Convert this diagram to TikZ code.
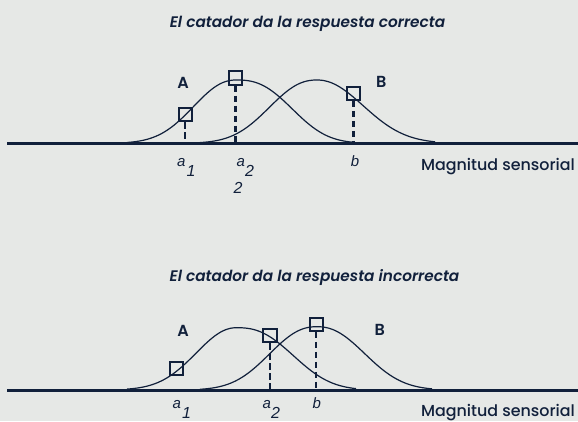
\documentclass[tikz,border=0pt]{standalone}
\usepackage{fontspec}
\setmainfont{Poppins}
\newfontfamily\semititle{Poppins SemiBold Italic}
\newfontfamily\semifont{Poppins SemiBold}
\newfontfamily\medfont{Poppins Medium}
\newfontfamily\labfont{Liberation Sans}
\definecolor{bg}{HTML}{E6E8E6}
\definecolor{ink}{HTML}{11203B}
\newcommand\dig[1]{\raisebox{-10pt}{\fontsize{16}{18}\selectfont #1}}
\tikzset{
  bellcurve/.style={draw=ink, line width=1.2pt},
  axisline/.style={draw=ink, line width=3pt},
  marker/.style={draw=ink, line width=1.9pt, minimum size=13.2pt, inner sep=0pt},
  guide/.style={draw=ink, line width=2.3pt, dash pattern=on 6.5pt off 3.5pt},
  titletext/.style={text=ink, font=\semititle\fontsize{15.3}{18}\selectfont, anchor=base, inner sep=0pt},
  groupname/.style={text=ink, font=\semifont\fontsize{16}{18}\selectfont, anchor=base, inner sep=0pt},
  varlabel/.style={text=ink, font=\labfont\itshape\fontsize{15}{17}\selectfont, anchor=base west, inner sep=0pt},
  axislabel/.style={text=ink, font=\medfont\fontsize{15.9}{18}\selectfont, anchor=base east, inner sep=0pt},
}
\begin{document}
\begin{tikzpicture}[x=1pt,y=-1pt]
\fill[bg] (0,0) rectangle (578,421);
\useasboundingbox (0,0) rectangle (578,421);
% ---------- top panel ----------
\node[titletext] (t1) at (307.5,27.3) {El catador da la respuesta correcta};
\coordinate (axTl) at (7,143.3);
\coordinate (axTr) at (578,143.3);
\draw[bellcurve] plot[domain=127:235.9, samples=50, smooth] (\x,{143.3-63.3*exp(-((236-\x)/56)^2.2)})
  -- plot[domain=236.1:353, samples=50, smooth] (\x,{143.3-63.3*exp(-((\x-236)/68)^2.6)});
\draw[bellcurve] plot[domain=192:316.9, samples=50, smooth] (\x,{143.3-63.3*exp(-((317-\x)/61)^2.3)})
  -- plot[domain=317.1:435, samples=50, smooth] (\x,{143.3-63.3*exp(-((\x-317)/63)^2.1)});
\draw[axisline] (axTl) -- (axTr);
\node[marker] (sTa1) at (185.3,114.5) {};
\node[marker] (sTa2) at (235.5,78) {};
\node[marker] (sTb) at (353.5,93.3) {};
\draw[guide] (sTa1.south) -- (sTa1.south |- axTl);
\draw[guide] (sTa2.south) -- (sTa2.south |- axTl);
\draw[guide] (sTb.south) -- (sTb.south |- axTl);
\node[groupname] (gTA) at (183,88) {A};
\node[groupname] (gTB) at (381.3,87.7) {B};
\node[varlabel] (lTa1) at (177,166.7) {a\kern1pt\dig{1}};
\node[varlabel] (lTa2) at (236.5,166.7) {a\kern0pt\dig{2}};
\node[varlabel, font=\labfont\itshape\fontsize{16}{18}\selectfont] (lTx) at (233.3,193.3) {2};
\node[varlabel, anchor=base] (lTb) at (355,166.7) {b};
\node[axislabel] (mT) at (575,170) {Magnitud sensorial};
% ---------- bottom panel ----------
\node[titletext] (t2) at (314.5,281) {El catador da la respuesta incorrecta};
\coordinate (axBl) at (7,390);
\coordinate (axBr) at (578,390);
\draw[bellcurve] plot[domain=127:236.4, samples=50, smooth] (\x,{390-62.3*exp(-((236.5-\x)/55)^2.1)})
  -- plot[domain=236.6:356, samples=50, smooth] (\x,{390-62.3*exp(-((\x-236.5)/70)^2.5)});
\draw[bellcurve] plot[domain=200:316.9, samples=50, smooth] (\x,{390-63.3*exp(-((317-\x)/61)^2.3)})
  -- plot[domain=317.1:432, samples=50, smooth] (\x,{390-63.3*exp(-((\x-317)/62)^2.25)});
\draw[axisline] (axBl) -- (axBr);
\node[marker] (sBa1) at (176.2,368.3) {};
\node[marker] (sBa2) at (270,335.5) {};
\node[marker] (sBb) at (316.3,324.2) {};
\draw[guide] (sBa2.south) -- (sBa2.south |- axBl);
\draw[guide] (sBb.south) -- (sBb.south |- axBl);
\node[groupname] (gBA) at (183,336.7) {A};
\node[groupname] (gBB) at (379.7,335) {B};
\node[varlabel] (lBa1) at (172.5,408.8) {a\kern1pt\dig{1}};
\node[varlabel] (lBa2) at (262.5,408.8) {a\kern0pt\dig{2}};
\node[varlabel, anchor=base] (lBb) at (316.7,408.8) {b};
\node[axislabel] (mB) at (575,416.5) {Magnitud sensorial};
\end{tikzpicture}
\end{document}
